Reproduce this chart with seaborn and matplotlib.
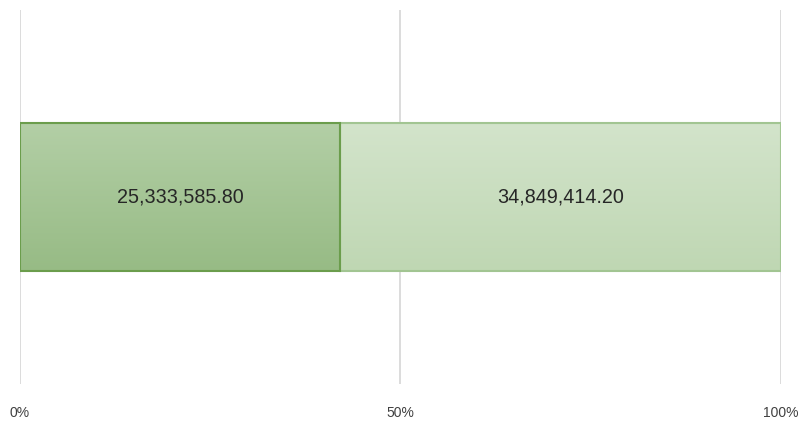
import numpy as np
import pandas as pd
import matplotlib
matplotlib.use('Agg')
import matplotlib.pyplot as plt
import seaborn as sns

# data
segments = ['Part A', 'Part B']
amounts = [25333585.80, 34849414.20]
fills = [('#b3cfa6', '#97bb85'), ('#d3e4cb', '#bfd7b3')]
edges = ['#6b9d4c', '#a2c592']

sns.set_theme(style='white')
plt.rcParams['font.family'] = ['Liberation Sans', 'DejaVu Sans']

total = sum(amounts)
shares = [a / total * 100 for a in amounts]
df = pd.DataFrame({'row': ['r', 'r'], 'segment': segments, 'share': shares})
df['left'] = df['share'].cumsum() - df['share']
df['right'] = df['share'].cumsum()

fig = plt.figure(figsize=(8.02, 4.21), dpi=100)
ax = fig.add_axes([0.0249, 0.088, 0.9489, 0.888])

# stacked bars, drawn from the right end so seaborn overlays correctly
order = list(reversed(range(len(df))))
for i in order:
    sns.barplot(data=df.iloc[[i]], x='right', y='row', orient='h',
                color=fills[i][0], width=0.5, ax=ax, zorder=2)

# gradient fill + edges
patches = list(ax.patches)
for p, i in zip(patches, order):
    y0, h = p.get_y(), p.get_height()
    x0 = df['left'].iloc[i]
    w = df['share'].iloc[i]
    p.set_visible(False)
    c0 = np.array(matplotlib.colors.to_rgb(fills[i][0]))
    c1 = np.array(matplotlib.colors.to_rgb(fills[i][1]))
    grad = np.linspace(0, 1, 100)[:, None, None] * (c1 - c0) + c0
    grad = np.repeat(grad, 2, axis=1)
    ax.imshow(grad, extent=[x0, x0 + w, y0 + h, y0], aspect='auto',
              origin='upper', zorder=2, interpolation='bilinear')
    ax.add_patch(plt.Rectangle((x0, y0), w, h, fill=False,
                               edgecolor=edges[i], lw=1.5, zorder=3))
    ax.text(x0 + w / 2, y0 + h / 2, f'{amounts[i]:,.2f}', ha='center',
            va='center', fontsize=14.2, color='#262626', zorder=4)

ax.set_xlim(0, 100)
ax.set_ylim(0.6275, -0.6275)
ax.set_xticks([0, 50, 100])
ax.set_xticklabels(['0%', '50%', '100%'])
ax.set_yticks([])
ax.set_xlabel('')
ax.set_ylabel('')
ax.xaxis.grid(True, color='#d9d9d9', lw=1.3, zorder=0)
ax.set_axisbelow(True)
for s in ax.spines.values():
    s.set_visible(False)
ax.tick_params(axis='x', length=0, pad=16, labelsize=10, labelcolor='#404040')

fig.savefig('out.png', dpi=100)
